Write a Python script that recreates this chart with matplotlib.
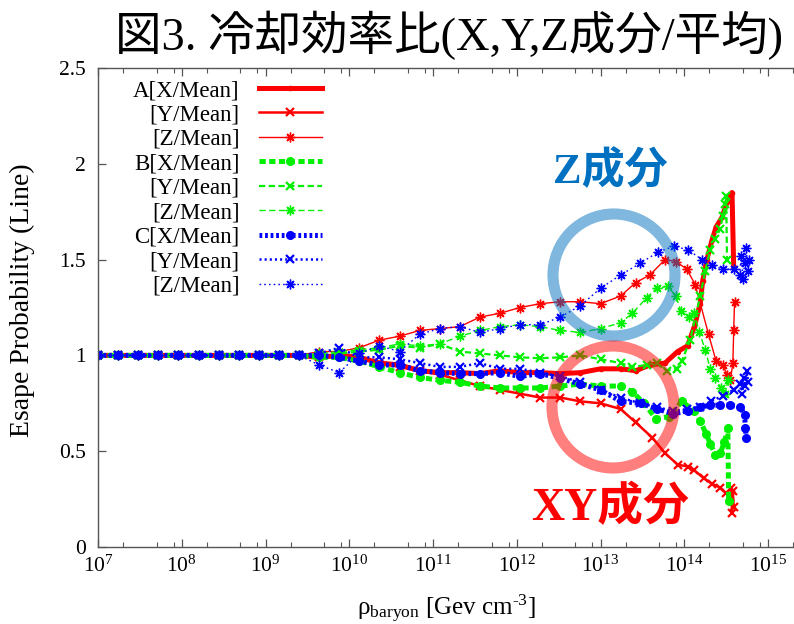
import numpy as np
import matplotlib
matplotlib.use("Agg")
import matplotlib.pyplot as plt
from matplotlib.patches import Ellipse
from matplotlib.ticker import LogLocator, FixedLocator, NullFormatter, FuncFormatter

plt.rcParams['font.family'] = ['Liberation Serif', 'Noto Sans CJK JP']
plt.rcParams['mathtext.fontset'] = 'custom'
plt.rcParams['mathtext.rm'] = 'Liberation Serif'
plt.rcParams['mathtext.it'] = 'Liberation Serif:italic'
plt.rcParams['lines.scale_dashes'] = False

# DATA (log10 of rho, ratio to mean)
base_exp = [7.00, 7.24, 7.48, 7.72, 7.96, 8.20, 8.44, 8.68, 8.92, 9.16,
            9.40, 9.64, 9.88, 10.12, 10.36, 10.60, 10.84, 11.08, 11.32, 11.56,
            11.80, 12.04, 12.28, 12.52, 12.76, 13.00, 13.24]

# run A
a_x_exp = base_exp + [13.42, 13.59, 13.77, 13.92, 14.04, 14.12, 14.19, 14.22,
                      14.27, 14.33, 14.38, 14.45, 14.51, 14.57, 14.59]
a_x = [1.00, 1.00, 1.00, 1.00, 1.00, 1.00, 1.00, 1.00, 1.00, 1.00,
       1.00, 0.99, 1.00, 0.99, 0.96, 0.95, 0.92, 0.91, 0.91, 0.905,
       0.92, 0.91, 0.91, 0.905, 0.91, 0.93, 0.93,
       0.92, 0.95, 0.96, 1.02, 1.05, 1.15, 1.27, 1.39, 1.50, 1.60,
       1.67, 1.72, 1.80, 1.85, 1.46]
a_y_exp = base_exp + [13.42, 13.62, 13.77, 13.92, 14.04, 14.12, 14.23, 14.33,
                      14.43, 14.50, 14.55, 14.56, 14.57, 14.58, 14.59]
a_y = [1.00, 1.00, 1.00, 1.00, 1.00, 1.00, 1.00, 1.00, 1.00, 1.00,
       1.00, 0.99, 1.00, 0.99, 0.96, 0.94, 0.92, 0.90, 0.87, 0.84,
       0.82, 0.80, 0.78, 0.78, 0.76, 0.75, 0.72,
       0.65, 0.57, 0.49, 0.43, 0.42, 0.40, 0.36, 0.33, 0.31, 0.28,
       0.26, 0.31, 0.18, 0.29, 0.21]
a_z_exp = base_exp + [13.42, 13.59, 13.77, 13.90, 14.03, 14.13, 14.29, 14.38,
                      14.46, 14.51, 14.55, 14.58, 14.59, 14.60]
a_z = [1.00, 1.00, 1.00, 1.00, 1.00, 1.00, 1.00, 1.00, 1.00, 1.00,
       1.00, 1.02, 1.02, 1.04, 1.08, 1.10, 1.13, 1.14, 1.15, 1.20,
       1.22, 1.25, 1.27, 1.28, 1.28, 1.27, 1.31,
       1.38, 1.42, 1.50, 1.49, 1.45, 1.37, 1.11, 0.97, 0.95, 0.90,
       0.87, 0.96, 1.13, 1.28]

# run B
b_x_exp = base_exp + [13.38, 13.52, 13.66, 13.82, 13.97, 14.12, 14.19, 14.26,
                      14.31, 14.37, 14.43, 14.48, 14.52, 14.53]
b_x = [1.00, 1.00, 1.00, 1.00, 1.00, 1.00, 1.00, 1.00, 1.00, 1.00,
       1.00, 0.99, 0.99, 0.97, 0.94, 0.91, 0.885, 0.87, 0.86, 0.84,
       0.83, 0.83, 0.83, 0.84, 0.85, 0.84, 0.84,
       0.81, 0.75, 0.67, 0.68, 0.76, 0.71, 0.66, 0.59, 0.54, 0.48,
       0.49, 0.55, 0.62, 0.24]
b_y_exp = base_exp + [13.38, 13.55, 13.67, 13.79, 13.91, 13.97, 14.07, 14.19,
                      14.25, 14.31, 14.37, 14.43, 14.46, 14.49, 14.50, 14.51]
b_y = [1.00, 1.00, 1.00, 1.00, 1.00, 1.00, 1.00, 1.00, 1.00, 1.00,
       1.00, 1.00, 1.01, 1.02, 1.03, 1.05, 1.04, 1.06, 1.02, 1.01,
       1.00, 0.99, 0.985, 0.99, 1.00, 0.98, 0.96,
       0.94, 0.95, 0.96, 0.92, 0.93, 0.97, 1.08, 1.31, 1.44, 1.55,
       1.61, 1.66, 1.73, 1.79, 1.83, 1.50]
b_z_exp = base_exp + [13.38, 13.55, 13.67, 13.80, 13.90, 13.96, 14.06, 14.12,
                      14.18, 14.25, 14.31, 14.37, 14.44, 14.49, 14.52]
b_z = [1.00, 1.00, 1.00, 1.00, 1.00, 1.00, 1.00, 1.00, 1.00, 1.00,
       1.00, 1.01, 1.02, 1.03, 1.04, 1.06, 1.05, 1.06, 1.10, 1.13,
       1.15, 1.16, 1.15, 1.13, 1.12, 1.14, 1.17,
       1.22, 1.30, 1.35, 1.36, 1.31, 1.23, 1.20, 1.22, 1.12, 1.03,
       0.93, 0.88, 0.83, 0.80, 0.87]

# run C
c_x_exp = base_exp + [13.48, 13.68, 13.87, 14.04, 14.19, 14.31, 14.43, 14.55,
                      14.67, 14.72, 14.73, 14.74]
c_x = [1.00, 1.00, 1.00, 1.00, 1.00, 1.00, 1.00, 1.00, 1.00, 1.00,
       1.00, 1.00, 0.99, 0.97, 0.95, 0.95, 0.92, 0.91, 0.905, 0.905,
       0.91, 0.89, 0.905, 0.88, 0.85, 0.82, 0.76,
       0.75, 0.72, 0.695, 0.71, 0.73, 0.74, 0.74, 0.74, 0.73, 0.69,
       0.62, 0.57]
c_y_exp = base_exp + [13.47, 13.67, 13.87, 14.03, 14.19, 14.32, 14.46, 14.59,
                      14.66, 14.69, 14.71, 14.73, 14.75, 14.76]
c_y = [1.00, 1.00, 1.00, 1.00, 1.00, 1.00, 1.00, 1.00, 1.00, 1.00,
       1.00, 1.01, 1.04, 0.99, 0.99, 0.98, 0.96, 0.94, 0.94, 0.96,
       0.93, 0.93, 0.91, 0.89, 0.86, 0.82, 0.78,
       0.75, 0.73, 0.71, 0.72, 0.73, 0.76, 0.79, 0.82, 0.85, 0.80,
       0.88, 0.84, 0.92, 0.86]
c_z_exp = base_exp + [13.47, 13.69, 13.88, 14.05, 14.21, 14.33, 14.46, 14.59,
                      14.66, 14.68, 14.70, 14.72, 14.74, 14.76, 14.77]
c_z = [1.00, 1.00, 1.00, 1.00, 1.00, 1.00, 1.00, 1.00, 1.00, 1.00,
       1.00, 0.95, 0.91, 1.01, 1.05, 1.02, 1.11, 1.14, 1.15, 1.12,
       1.14, 1.16, 1.16, 1.20, 1.26, 1.35, 1.42,
       1.48, 1.54, 1.57, 1.55, 1.50, 1.47, 1.45, 1.45, 1.42, 1.52,
       1.40, 1.48, 1.56, 1.44, 1.50]

labels = ['A[X/Mean]', '[Y/Mean]', '[Z/Mean]',
          'B[X/Mean]', '[Y/Mean]', '[Z/Mean]',
          'C[X/Mean]', '[Y/Mean]', '[Z/Mean]']
y_ticks = [0, 0.5, 1, 1.5, 2, 2.5]

#FIGURE
fig = plt.figure(figsize=(7.94, 6.24), dpi=100)
ax = fig.add_axes([98/794, 1 - 547/624, 696/794, 479/624])

RED, GREEN, BLUE = '#ff0000', '#00f000', '#0000ff'
AST = (8, 2, 0)   # gnuplot style asterisk
styles = [
    dict(color=RED, lw=3.6, ls='-', marker='o', ms=3),
    dict(color=RED, lw=1.8, ls='-', marker='x', ms=6, mew=1.6),
    dict(color=RED, lw=1.0, ls='-', marker=AST, ms=7, mew=1.0),
    dict(color=GREEN, lw=3.6, ls=(0, (4.5, 2.5)), marker='o', ms=5.5),
    dict(color=GREEN, lw=1.6, ls=(0, (4.5, 2.5)), marker='x', ms=6, mew=1.6),
    dict(color=GREEN, lw=1.0, ls=(0, (4.5, 2.5)), marker=AST, ms=7, mew=1.0),
    dict(color=BLUE, lw=3.6, ls=(0, (2.0, 2.0)), marker='o', ms=5.5),
    dict(color=BLUE, lw=1.8, ls=(0, (1.5, 2.2)), marker='x', ms=6, mew=1.6),
    dict(color=BLUE, lw=1.0, ls=(0, (1.2, 2.2)), marker=AST, ms=7, mew=1.0),
]
series = [(a_x_exp, a_x), (a_y_exp, a_y), (a_z_exp, a_z),
          (b_x_exp, b_x), (b_y_exp, b_y), (b_z_exp, b_z),
          (c_x_exp, c_x), (c_y_exp, c_y), (c_z_exp, c_z)]
for (ex, vals), lab, st in zip(series, labels, styles):
    ax.plot(10 ** np.array(ex), vals, label=lab, **st)

#AXES
ax.set_xscale('log')
ax.set_xlim(1e7, 10 ** 15.31)
ax.set_ylim(0, 2.5)
ax.xaxis.set_major_locator(LogLocator(base=10, numticks=20))
ax.xaxis.set_minor_locator(LogLocator(base=10, subs=(2, 5, 8), numticks=20))
ax.xaxis.set_minor_formatter(NullFormatter())
ax.yaxis.set_major_locator(FixedLocator(y_ticks))
ax.yaxis.set_major_formatter(FuncFormatter(lambda v, p: '%g' % v))
ax.tick_params(which='both', direction='in', top=True, right=False,
               color='#555555', labelsize=15.5)
ax.tick_params(which='major', length=6, width=0.9)
ax.tick_params(which='minor', length=3.5, width=0.8)
ax.tick_params(axis='y', pad=9)
ax.tick_params(axis='x', pad=6)
for s in ['left', 'bottom', 'top']:
    ax.spines[s].set_color('#555555')
    ax.spines[s].set_linewidth(1.0)
ax.spines['right'].set_visible(False)

ax.set_xlabel(r'ρ$_{\mathrm{baryon}}$ [Gev cm$^{\text{-3}}$]', fontsize=18)
ax.xaxis.set_label_coords(0.5, -0.095)
ax.set_ylabel('Esape Probability (Line)', fontsize=20)
ax.yaxis.set_label_coords(-0.09, 0.515)

#LEGEND (gnuplot look: right aligned text, sample on the right)
ax.legend(loc='upper right', bbox_to_anchor=(322/794, 1 - 80/624),
          bbox_transform=fig.transFigure, markerfirst=False, alignment='right',
          frameon=False, fontsize=16.5, numpoints=1, handlelength=2.75,
          handletextpad=0.85, labelspacing=0.15, borderpad=0, borderaxespad=0)

#HIGHLIGHT CIRCLES AND NOTES
fig.add_artist(Ellipse((614/794, 1 - 275/624), 122/794, 122/624, fill=False,
                       lw=8, edgecolor='#0070c0', alpha=0.5,
                       transform=fig.transFigure))
fig.add_artist(Ellipse((613/794, 1 - 407/624), 122/794, 122/624, fill=False,
                       lw=8, edgecolor='#ff0000', alpha=0.5,
                       transform=fig.transFigure))
fig.text(610/794, 1 - 171/624, 'Z成分', color='#0070c0', fontsize=31,
         fontweight='bold', ha='center', va='center')
fig.text(610/794, 1 - 508/624, 'XY成分', color='#ff0000', fontsize=33,
         fontweight='bold', ha='center', va='center')

fig.text(449/794, 1 - 35/624, '図3. 冷却効率比(X,Y,Z成分/平均)', fontsize=33.5,
         ha='center', va='center')

plt.savefig('out.png', dpi=100)
